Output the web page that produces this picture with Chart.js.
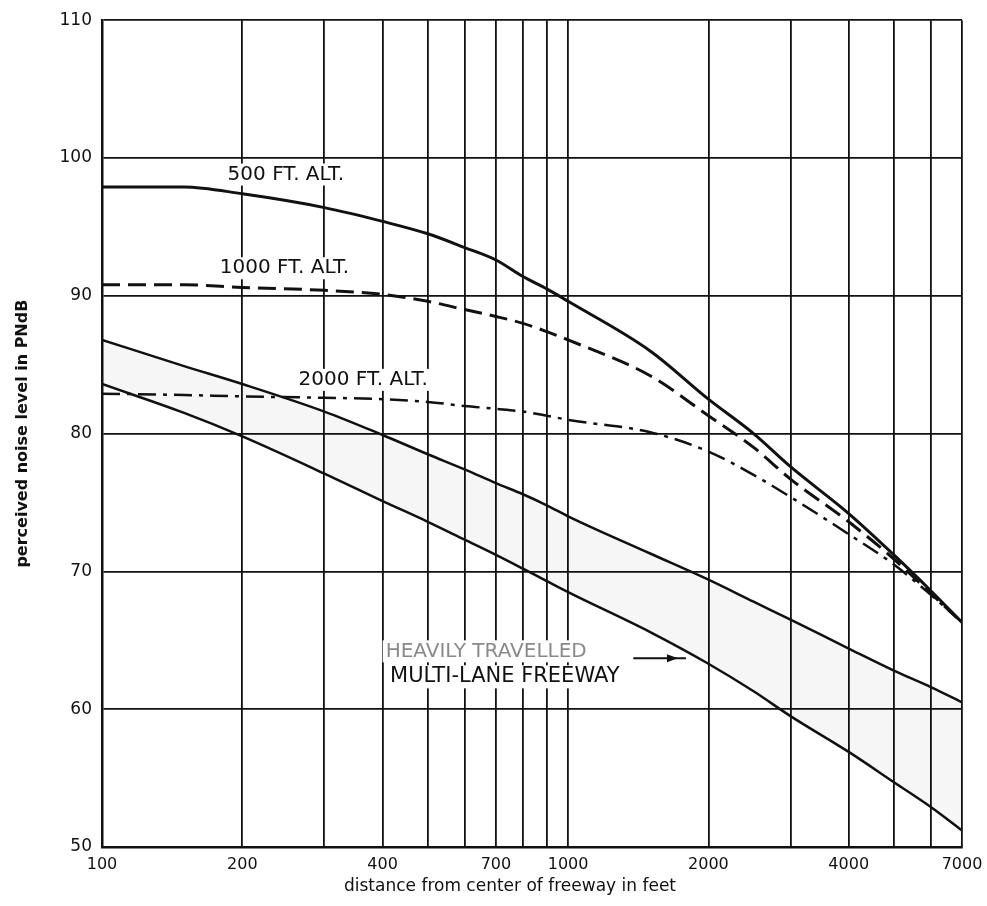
<!DOCTYPE html>
<html>
<head>
<meta charset="utf-8">
<script src="https://cdn.jsdelivr.net/npm/chart.js@4.4.1/dist/chart.umd.min.js"></script>
<style>
  html, body { margin: 0; padding: 0; background: #fff; }
  #wrap { width: 987px; height: 906px; }
</style>
</head>
<body>
<div id="wrap"><canvas id="noise"></canvas></div>
<script>
const distances = [100, 150, 200, 300, 400, 500, 600, 700, 800, 900, 1000, 1500, 2000, 2500, 3000, 4000, 5000, 6000, 7000];

// perceived noise level, PNdB
const alt500  = [97.9, 97.9, 97.4, 96.4, 95.4, 94.5, 93.5, 92.6, 91.4, 90.5, 89.6, 86.0, 82.5, 80.0, 77.6, 74.2, 71.2, 68.6, 66.3];
const alt1000 = [90.8, 90.8, 90.6, 90.4, 90.1, 89.6, 89.0, 88.5, 88.0, 87.4, 86.8, 84.2, 81.3, 79.0, 76.7, 73.6, 70.9, 68.4, 66.3];
const alt2000 = [82.9, 82.8, 82.7, 82.6, 82.5, 82.3, 82.0, 81.8, 81.6, 81.3, 81.0, 80.1, 78.7, 77.0, 75.4, 72.7, 70.5, 68.3, 66.3];
const freewayHigh = [86.8, 84.9, 83.6, 81.6, 79.9, 78.5, 77.4, 76.4, 75.6, 74.8, 74.0, 71.3, 69.4, 67.8, 66.5, 64.4, 62.8, 61.6, 60.5];
const freewayLow  = [83.6, 81.5, 79.8, 77.1, 75.1, 73.6, 72.3, 71.2, 70.2, 69.3, 68.5, 65.6, 63.3, 61.3, 59.5, 56.9, 54.7, 52.9, 51.2];

// axis ticks
const xGrid = [100, 200, 300, 400, 500, 600, 700, 800, 900, 1000, 2000, 3000, 4000, 5000, 6000, 7000];
const xLabels = [100, 200, 400, 700, 1000, 2000, 4000, 7000];

const pts = arr => arr.map((v, i) => ({ x: distances[i], y: v }));

// text labels placed in data coordinates
const notes = [
  { text: '500 FT. ALT.', x: 186, y: 98.8, size: 20, color: '#111' },
  { text: '1000 FT. ALT.', x: 179, y: 92.0, size: 20, color: '#111' },
  { text: '2000 FT. ALT.', x: 264, y: 83.9, size: 20, color: '#111' },
  { text: 'HEAVILY TRAVELLED', x: 406, y: 64.2, size: 20, color: '#8a8a8a' },
  { text: 'MULTI-LANE FREEWAY', x: 415, y: 62.35, size: 21, color: '#111' }
];
const arrow = { x0: 1380, x1: 1790, y: 63.7 };

const notesPlugin = {
  id: 'notes',
  beforeDraw(chart) {
    const c = chart.ctx;
    c.save();
    c.fillStyle = '#fff';
    c.fillRect(0, 0, chart.width, chart.height);
    c.restore();
  },
  afterDraw(chart) {
    const c = chart.ctx;
    const xs = chart.scales.x, ys = chart.scales.y;
    c.save();
    c.textBaseline = 'middle';
    c.textAlign = 'left';
    notes.forEach(n => {
      const px = xs.getPixelForValue(n.x), py = ys.getPixelForValue(n.y);
      c.font = n.size + 'px "DejaVu Sans"';
      const w = c.measureText(n.text).width;
      c.fillStyle = '#fff';
      c.fillRect(px - 3, py - n.size * 0.55, w + 6, n.size * 1.1);
      c.fillStyle = n.color;
      c.fillText(n.text, px, py);
    });

    // arrow to the lower freeway curve
    const ax0 = xs.getPixelForValue(arrow.x0), ax1 = xs.getPixelForValue(arrow.x1);
    const ay = ys.getPixelForValue(arrow.y);
    c.strokeStyle = '#111';
    c.fillStyle = '#111';
    c.lineWidth = 2;
    c.beginPath();
    c.moveTo(ax0, ay);
    c.lineTo(ax1, ay);
    c.stroke();
    const tip = ax1 - 8;
    c.beginPath();
    c.moveTo(tip, ay);
    c.lineTo(tip - 11, ay - 4);
    c.lineTo(tip - 11, ay + 4);
    c.closePath();
    c.fill();

    // x axis title
    c.font = '17px "DejaVu Sans"';
    c.textAlign = 'center';
    c.fillStyle = '#111';
    c.fillText('distance from center of freeway in feet', 510, 887);
    c.restore();
  }
};

const ctx = document.getElementById('noise');

const curve = {
  borderColor: '#111',
  borderWidth: 3,
  pointRadius: 0,
  cubicInterpolationMode: 'monotone'
};

new Chart(ctx, {
  type: 'line',
  data: {
    datasets: [
      { ...curve, label: '500 FT. ALT.', data: pts(alt500) },
      { ...curve, label: '1000 FT. ALT.', data: pts(alt1000), borderDash: [18, 8] },
      { ...curve, label: '2000 FT. ALT.', data: pts(alt2000), borderWidth: 2.5, borderDash: [18, 7, 4, 7] },
      { ...curve, label: 'freeway upper', data: pts(freewayHigh), borderWidth: 2.5 },
      {
        ...curve,
        label: 'freeway lower',
        data: pts(freewayLow),
        borderWidth: 2.5,
        fill: '-1',
        backgroundColor: 'rgba(0,0,0,0.035)'
      }
    ]
  },
  options: {
    responsive: true,
    maintainAspectRatio: false,
    animation: false,
    layout: { padding: { top: 16, right: 25, left: 0, bottom: 0 } },
    plugins: {
      legend: { display: false },
      tooltip: { enabled: false }
    },
    scales: {
      x: {
        type: 'logarithmic',
        min: 100,
        max: 7000,
        afterBuildTicks: scale => { scale.ticks = xGrid.map(v => ({ value: v })); },
        afterFit: scale => {
          scale.height = 59;
          scale.paddingLeft = 0;
          scale.paddingRight = 0;
        },
        grid: { color: '#111', lineWidth: 1.8, drawTicks: false },
        border: { color: '#111', width: 2.5 },
        ticks: {
          autoSkip: false,
          maxRotation: 0,
          padding: 8,
          color: '#111',
          font: { family: 'DejaVu Sans', size: 16 },
          callback: v => xLabels.includes(v) ? String(v) : ''
        }
      },
      y: {
        min: 50,
        max: 110,
        afterFit: scale => { scale.width = 102; },
        grid: { color: '#111', lineWidth: 1.8, drawTicks: false },
        border: { color: '#111', width: 2.5 },
        ticks: {
          stepSize: 10,
          padding: 10,
          color: '#111',
          font: { family: 'DejaVu Sans', size: 17 }
        },
        title: {
          display: true,
          text: 'perceived noise level in PNdB',
          color: '#111',
          font: { family: 'DejaVu Sans', size: 16, weight: 'bold' },
          padding: { top: 13, bottom: 0 }
        }
      }
    }
  },
  plugins: [notesPlugin]
});
</script>
</body>
</html>
